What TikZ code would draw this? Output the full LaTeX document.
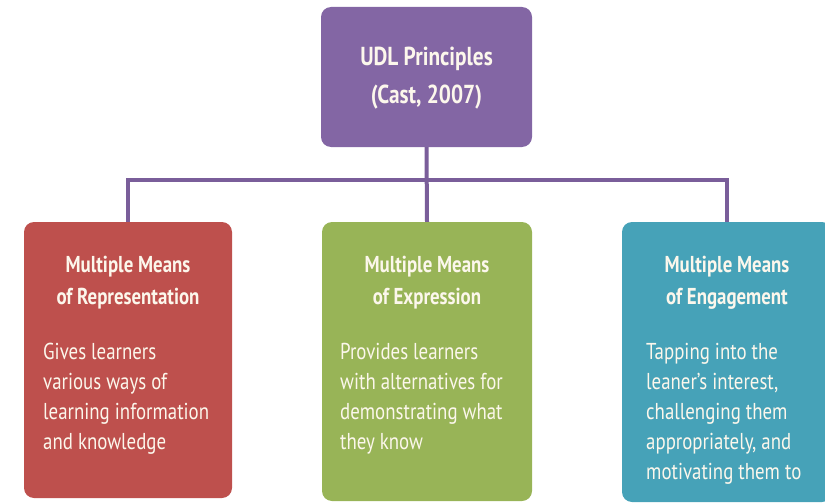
\documentclass[tikz,border=0pt]{standalone}
\usepackage{fontspec}
\setmainfont{PT Sans}[FakeStretch=0.82]
\definecolor{topc}{HTML}{8366A4}
\definecolor{redc}{HTML}{BE504D}
\definecolor{grnc}{HTML}{98B457}
\definecolor{tealc}{HTML}{46A2B8}
\definecolor{linkc}{HTML}{7A5E9A}
\definecolor{txt}{HTML}{FCF7EC}
\begin{document}
\begin{tikzpicture}[x=1pt,y=-1pt,
  box/.style={rounded corners=10pt, inner sep=0pt, draw=none},
  link/.style={draw=linkc, line width=4pt},
  toptext/.style={text=txt, font=\bfseries\fontsize{26}{38}\selectfont, align=center, inner sep=0pt},
  head/.style={text=txt, font=\bfseries\fontsize{23}{32}\selectfont, align=center, anchor=north, inner sep=0pt},
  body/.style={text=txt, font=\fontsize{23}{30}\selectfont, align=left, anchor=north west, inner sep=0pt}]
\useasboundingbox (0,0) rectangle (825,503);
% boxes
\node[box, fill=topc, minimum width=211pt, minimum height=140pt] (top) at (426.5,77) {};
\node[box, fill=redc, minimum width=208pt, minimum height=276pt] (left) at (128,360) {};
\node[box, fill=grnc, minimum width=210pt, minimum height=279pt] (mid) at (427,361.5) {};
\node[box, fill=tealc, minimum width=210pt, minimum height=280pt] (right) at (727,362) {};
% connectors
\coordinate (bar) at (427,180);
\draw[link] (left.north) |- (bar) -| (right.north);
\draw[link] (top.south) -- (mid.north);
% texts
\node[toptext] (toplabel) at (426.5,78) {UDL Principles\\(Cast, 2007)};
\node[head] (lefthead) at (128,256) {Multiple Means\\of Representation};
\node[head] (midhead) at (427,256) {Multiple Means\\of Expression};
\node[head] (righthead) at (727,256) {Multiple Means\\of Engagement};
\node[body] (leftbody) at (43,343) {Gives learners\\various ways of\\learning information\\and knowledge};
\node[body] (midbody) at (340,343) {Provides learners\\with alternatives for\\demonstrating what\\they know};
\node[body] (rightbody) at (646,343) {Tapping into the\\leaner’s interest,\\challenging them\\appropriately, and\\motivating them to};
\end{tikzpicture}
\end{document}
